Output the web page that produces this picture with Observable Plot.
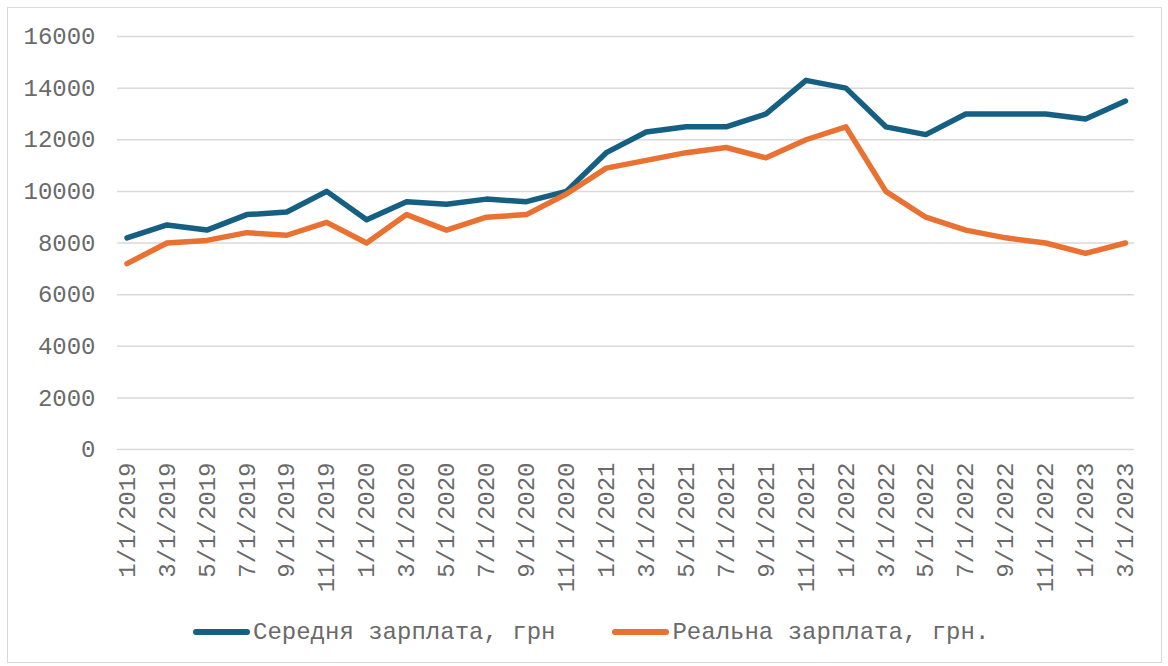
<!DOCTYPE html>
<html>
<head>
<meta charset="utf-8">
<script src="https://cdn.jsdelivr.net/npm/d3@7"></script>
<script src="https://cdn.jsdelivr.net/npm/@observablehq/plot@0.6"></script>
<style>
  html, body { margin: 0; padding: 0; background: #fff; }
  #wrap { position: relative; width: 1168px; height: 666px; overflow: hidden; }
  #border { position: absolute; left: 7px; top: 7px; width: 1155px; height: 656px; border: 1.5px solid #d9d9d9; box-sizing: border-box; pointer-events: none; }
  #chart { position: absolute; left: 0; top: 0; }
  #legend { position: absolute; left: 193px; top: 612px; height: 40px; display: flex; align-items: center;
    font-family: "Liberation Mono", "Courier New", monospace; font-size: 24px; color: #6a6a6a; white-space: pre; }
  .item { display: flex; align-items: center; }
  .sw { width: 57px; height: 5.5px; border-radius: 3px; margin-right: 3px; }
</style>
</head>
<body>
<div id="wrap">
  <div id="chart"></div>
  <div id="legend"></div>
  <div id="border"></div>
</div>
<script>
const dates = ["1/1/2019","3/1/2019","5/1/2019","7/1/2019","9/1/2019","11/1/2019",
  "1/1/2020","3/1/2020","5/1/2020","7/1/2020","9/1/2020","11/1/2020",
  "1/1/2021","3/1/2021","5/1/2021","7/1/2021","9/1/2021","11/1/2021",
  "1/1/2022","3/1/2022","5/1/2022","7/1/2022","9/1/2022","11/1/2022",
  "1/1/2023","3/1/2023"];
const avgWage = [8200,8700,8500,9100,9200,10000,8900,9600,9500,9700,9600,10000,
  11500,12300,12500,12500,13000,14300,14000,12500,12200,13000,13000,13000,12800,13500];
const realWage = [7200,8000,8100,8400,8300,8800,8000,9100,8500,9000,9100,9900,
  10900,11200,11500,11700,11300,12000,12500,10000,9000,8500,8200,8000,7600,8000];
const seriesNames = ["Середня зарплата, грн", "Реальна зарплата, грн."];
const seriesColors = ["#156082", "#E97132"];
const yTicks = [0,2000,4000,6000,8000,10000,12000,14000,16000];

const rows = [];
dates.forEach((d, i) => {
  rows.push({date: d, value: avgWage[i], series: seriesNames[0]});
  rows.push({date: d, value: realWage[i], series: seriesNames[1]});
});

const font = "'Liberation Mono', 'Courier New', monospace";

const plot = Plot.plot({
  width: 1168,
  height: 610,
  marginLeft: 117,
  marginRight: 34,
  marginTop: 36,
  marginBottom: 161,
  style: { fontFamily: font, fontSize: "24px", color: "#6a6a6a", background: "transparent" },
  x: { type: "point", domain: dates, padding: 0, round: false, insetLeft: 9.5, insetRight: 9, label: null },
  y: { domain: [0, 16000], label: null },
  color: { domain: seriesNames, range: seriesColors },
  marks: [
    Plot.ruleY(yTicks, { stroke: "#d9d9d9", strokeWidth: 1.5 }),
    Plot.axisY({ ticks: yTicks, tickSize: 0, tickPadding: 22, tickFormat: d => String(d), fontSize: 24, label: null }),
    Plot.axisX({ tickSize: 0, tickPadding: 13, tickRotate: -90, fontSize: 24, label: null }),
    Plot.line(rows, { x: "date", y: "value", z: "series", stroke: "series", strokeWidth: 5.5,
      strokeLinejoin: "round", strokeLinecap: "round" })
  ]
});
document.getElementById("chart").appendChild(plot);

const legend = document.getElementById("legend");
seriesNames.forEach((name, i) => {
  const item = document.createElement("div");
  item.className = "item";
  if (i > 0) item.style.marginLeft = "57px";
  const sw = document.createElement("div");
  sw.className = "sw";
  sw.style.background = seriesColors[i];
  const tx = document.createElement("span");
  tx.textContent = name;
  item.appendChild(sw);
  item.appendChild(tx);
  legend.appendChild(item);
});
</script>
</body>
</html>
